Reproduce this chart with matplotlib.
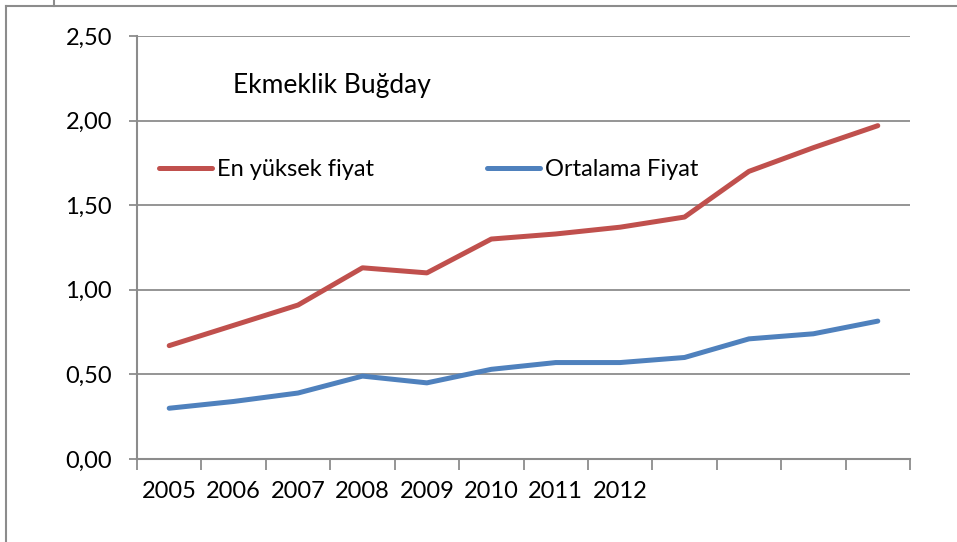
import numpy as np
import matplotlib
matplotlib.use("Agg")
import matplotlib.pyplot as plt
from matplotlib.lines import Line2D
from matplotlib.ticker import FuncFormatter

plt.rcParams['font.family'] = ['Lato', 'DejaVu Sans']

# yillar (son dort kategoride etiket yok)
years = ['2005', '2006', '2007', '2008', '2009', '2010', '2011', '2012', '', '', '', '']
en_yuksek = [0.67, 0.79, 0.91, 1.13, 1.10, 1.30, 1.33, 1.37, 1.43, 1.70, 1.84, 1.97]
ortalama = [0.30, 0.34, 0.39, 0.49, 0.45, 0.53, 0.57, 0.57, 0.60, 0.71, 0.74, 0.815]

red = '#C0504D'
blue = '#4F81BD'
grid = '#8C8C8C'
fs = 17

fig = plt.figure(figsize=(9.57, 5.42), dpi=100)
ax = fig.add_axes([137/957, 1-459/542, 773/957, 423/542])

x = np.arange(len(years))
ax.plot(x, en_yuksek, color=red, lw=3.6, solid_capstyle='round', solid_joinstyle='round', label='En yüksek fiyat')
ax.plot(x, ortalama, color=blue, lw=3.6, solid_capstyle='round', solid_joinstyle='round', label='Ortalama Fiyat')

ax.set_xlim(-0.5, len(years) - 0.5)
ax.set_ylim(0, 2.5)
ax.set_yticks(np.arange(0, 2.51, 0.5))
ax.yaxis.set_major_formatter(FuncFormatter(lambda v, p: f'{v:.2f}'.replace('.', ',')))
ax.grid(axis='y', color=grid, lw=1.3)
ax.set_axisbelow(True)

ax.set_xticks(x)
ax.set_xticklabels(years)
ax.set_xticks(np.arange(-0.5, len(years)), minor=True)
ax.tick_params(axis='x', which='major', length=0, pad=16, labelsize=fs)
ax.tick_params(axis='x', which='minor', length=8, width=1.3, color=grid, direction='out')
ax.tick_params(axis='y', length=6, width=1.3, color=grid, pad=12, labelsize=fs)

for s in ['top', 'right']:
    ax.spines[s].set_visible(False)
for s in ['left', 'bottom']:
    ax.spines[s].set_color(grid)
    ax.spines[s].set_linewidth(1.5)

ax.text((233-137)/773, (459-86)/423, 'Ekmeklik Buğday', transform=ax.transAxes,
        fontsize=19, va='center', ha='left')
ax.legend(loc='center left', bbox_to_anchor=((159-137)/773, (459-170)/423), ncol=2,
          frameon=False, fontsize=fs, handlelength=2.25, handletextpad=0.2,
          columnspacing=4.8, borderpad=0, borderaxespad=0)

# dis cerceve
fig.add_artist(Line2D([6/957, 6/957], [0, 1-6/542], color=grid, lw=1.5))
fig.add_artist(Line2D([6/957, 1], [1-6/542, 1-6/542], color=grid, lw=1.5))
fig.add_artist(Line2D([54/957, 54/957], [1-6/542, 1], color=grid, lw=1.5))

fig.savefig('out.png', dpi=100)
